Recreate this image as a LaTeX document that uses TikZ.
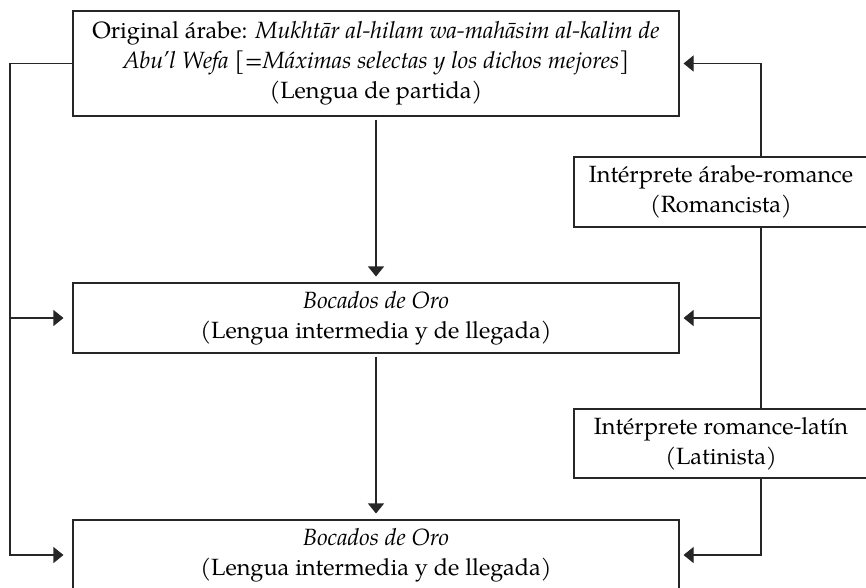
\documentclass[tikz,border=0pt]{standalone}
\usepackage{fontspec}
\setmainfont{TeX Gyre Pagella}
\usetikzlibrary{arrows.meta}
\tikzset{
  box/.style={draw=black!85, line width=1.1pt, align=center, inner sep=0pt,
    font=\fontsize{23.5}{30}\selectfont},
  conn/.style={draw=black!85, line width=1.1pt},
  arr/.style={conn, -{Triangle[length=10pt,width=16pt]}},
}
\begin{document}
\begin{tikzpicture}[x=1pt,y=1pt]
\useasboundingbox (0,0) rectangle (866,-587);
\coordinate (lx) at (10,0);
\coordinate (rx) at (761,0);
\node[box, minimum width=606pt, minimum height=105pt] (top) at (376,-63.5)
  {Original árabe: \textit{Mukhtār al-hilam wa-mahāsim al-kalim de}\\
   \textit{Abu’l Wefa} [=\textit{Máximas selectas y los dichos mejores}]\\
   (Lengua de partida)};
\node[box, minimum width=606pt, minimum height=70pt] (mid) at (376,-318)
  {\textit{Bocados de Oro}\\(Lengua intermedia y de llegada)};
\node[box, minimum width=606pt, minimum height=70pt] (bot) at (376,-555)
  {\textit{Bocados de Oro}\\(Lengua intermedia y de llegada)};
\node[box, minimum width=294pt, minimum height=70pt] (int) at (721,-192)
  {Intérprete árabe-romance\\(Romancista)};
\node[box, minimum width=294pt, minimum height=69pt] (lat) at (721,-443.5)
  {Intérprete romance-latín\\(Latinista)};
% left side
\draw[arr, shorten >=9pt] (top.west) -- (top.west -| lx) -- (bot.west -| lx) -- (bot.west);
\draw[arr, shorten >=9pt] (mid.west -| lx) -- (mid.west);
% right side
\draw[arr, shorten >=4pt] (int.north -| rx) -- (top.east -| rx) -- (top.east);
\draw[conn] (int.south -| rx) -- (lat.north -| rx);
\draw[arr, shorten >=4pt] (mid.east -| rx) -- (mid.east);
\draw[arr, shorten >=4pt] (lat.south -| rx) -- (bot.east -| rx) -- (bot.east);
% centre
\draw[arr, shorten <=3pt, shorten >=6pt] (top.south) -- (mid.north);
\draw[arr, shorten <=3pt, shorten >=6pt] (mid.south) -- (bot.north);
\end{tikzpicture}
\end{document}
